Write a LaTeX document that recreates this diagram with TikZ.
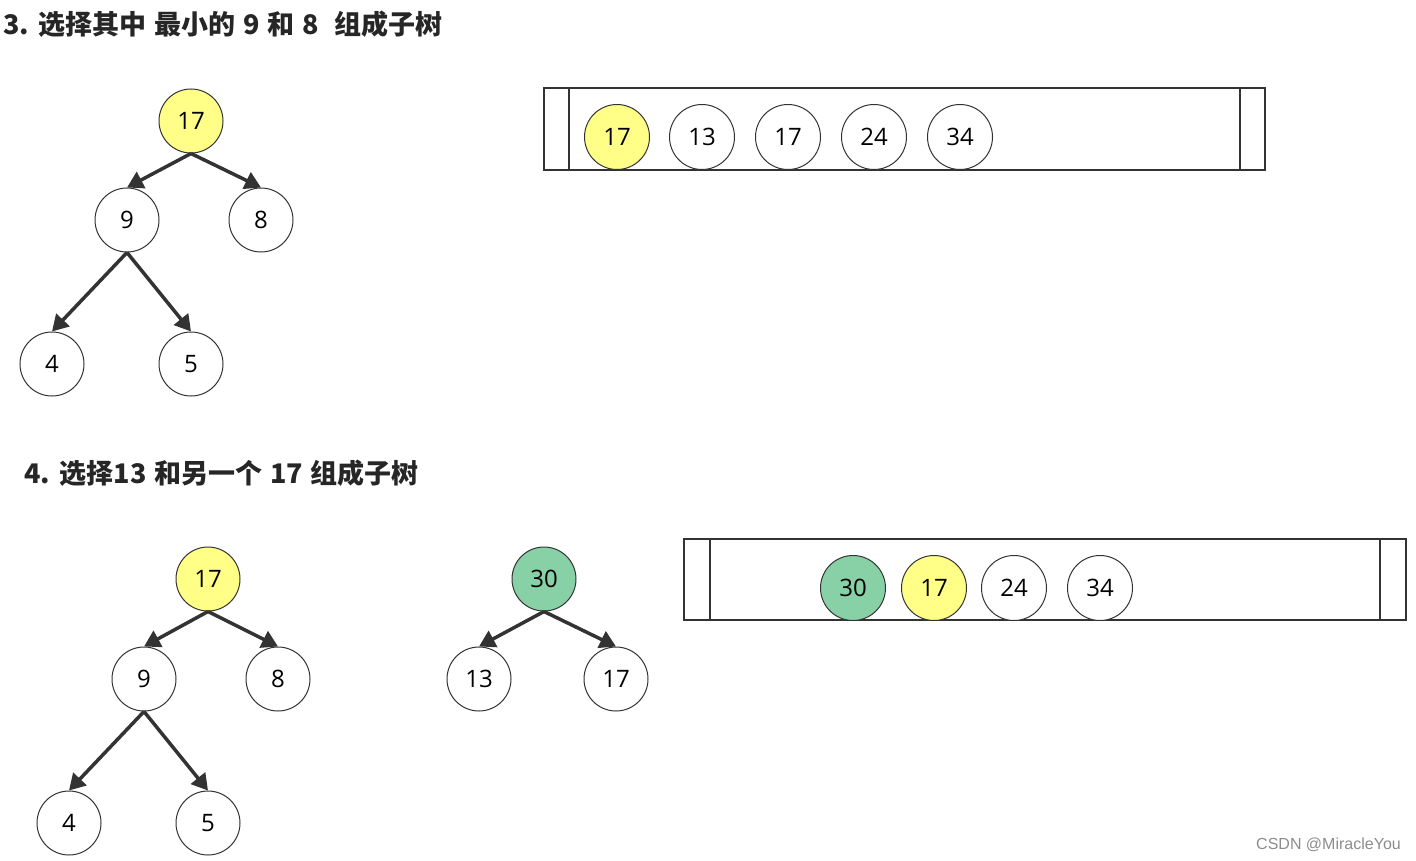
\documentclass[tikz,border=0pt]{standalone}
\usepackage{fontspec}
\setmainfont{Open Sans}
\newfontfamily\cjk[WordSpace=1.25]{Noto Sans CJK SC}
\newfontfamily\wmfont{Liberation Sans}
\usetikzlibrary{arrows.meta}
\definecolor{nodeyellow}{HTML}{FFFF88}
\definecolor{nodegreen}{HTML}{88D1A6}
\definecolor{edgegray}{HTML}{333333}
\tikzset{
  tn/.style={circle, draw=edgegray, line width=1pt, minimum size=64pt, inner sep=0pt, fill=white, font=\fontsize{24}{26}\selectfont},
  qn/.style={tn, minimum size=65pt},
  yel/.style={fill=nodeyellow},
  grn/.style={fill=nodegreen},
  edge/.style={draw=edgegray, line width=3.5pt, -{Triangle[length=16pt,width=18pt]}},
  qbox/.style={draw=edgegray, line width=1.2pt},
  title/.style={anchor=west, inner sep=0pt, font=\cjk\bfseries\fontsize{27}{29}\selectfont, text=black!85}
}
\begin{document}
\begin{tikzpicture}[x=1pt,y=-1pt]
\useasboundingbox (0,0) rectangle (1416,861);
% titles
\node[title] (t3) at (3,24) {3. 选择其中 最小的 9 和 8 ~组成子树};
\node[title] (t4) at (24,473) {4. 选择13 和另一个 17 组成子树};
% tree 3
\node[tn,yel] (a17) at (191,121) {17};
\node[tn] (a9) at (127,220) {9};
\node[tn] (a8) at (261,220) {8};
\node[tn] (a4) at (52,364) {4};
\node[tn] (a5) at (191,364) {5};
\draw[edge] (a17.south) -- (a9.north);
\draw[edge] (a17.south) -- (a8.north);
\draw[edge] (a9.south) -- (a4.north);
\draw[edge] (a9.south) -- (a5.north);
% queue 3
\draw[qbox] (544,88) rectangle (1265,170);
\draw[qbox] (569,88) -- (569,170);
\draw[qbox] (1240,88) -- (1240,170);
\node[qn,yel] (q1) at (617,137) {17};
\node[qn] (q2) at (702,137) {13};
\node[qn] (q3) at (788,137) {17};
\node[qn] (q4) at (874,137) {24};
\node[qn] (q5) at (960,137) {34};
% tree 4
\node[tn,yel] (b17) at (208,579) {17};
\node[tn] (b9) at (144,679) {9};
\node[tn] (b8) at (278,679) {8};
\node[tn] (b4) at (69,823) {4};
\node[tn] (b5) at (208,823) {5};
\draw[edge] (b17.south) -- (b9.north);
\draw[edge] (b17.south) -- (b8.north);
\draw[edge] (b9.south) -- (b4.north);
\draw[edge] (b9.south) -- (b5.north);
% tree 30
\node[tn,grn] (c30) at (544,579) {30};
\node[tn] (c13) at (479,679) {13};
\node[tn] (c17) at (616,679) {17};
\draw[edge] (c30.south) -- (c13.north);
\draw[edge] (c30.south) -- (c17.north);
% queue 4
\draw[qbox] (684,539) rectangle (1406,620);
\draw[qbox] (710,539) -- (710,620);
\draw[qbox] (1380,539) -- (1380,620);
\node[qn,grn] (r1) at (853,588) {30};
\node[qn,yel] (r2) at (934,588) {17};
\node[qn] (r3) at (1014,588) {24};
\node[qn] (r4) at (1100,588) {34};
% watermark
\node[anchor=east, inner sep=0pt, text=black!45, font=\wmfont\fontsize{16}{18}\selectfont] (wm) at (1401,845) {CSDN @MiracleYou};
\end{tikzpicture}
\end{document}
